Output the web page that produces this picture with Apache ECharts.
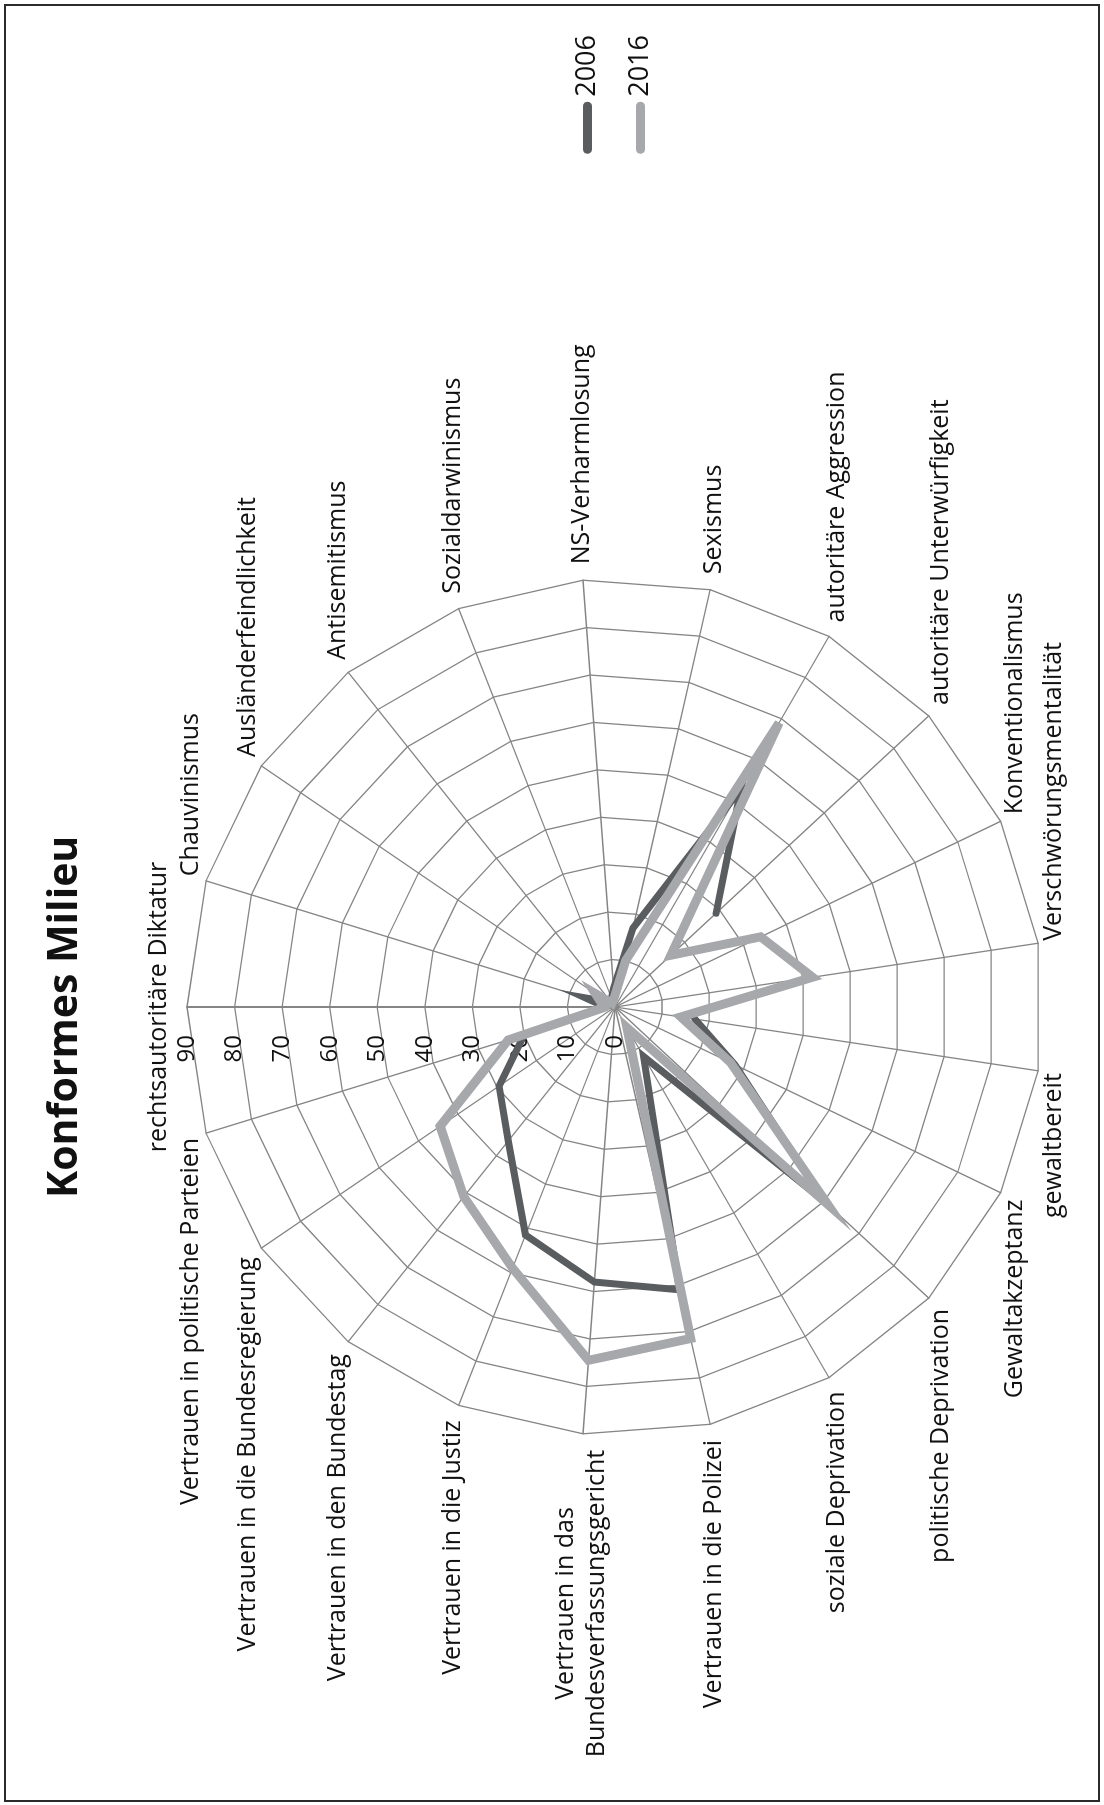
<!DOCTYPE html>
<html>
<head>
<meta charset="utf-8">
<script src="https://cdn.jsdelivr.net/npm/echarts@6/dist/echarts.min.js"></script>
<style>
  html, body { margin: 0; padding: 0; background: #fff; }
  #page { position: relative; width: 1104px; height: 1805px; overflow: hidden; }
  #frame { position: absolute; left: 4px; top: 4px; width: 1096px; height: 1798px; border: 2px solid #2b2b2b; box-sizing: border-box; pointer-events: none; }
  /* chart is laid out landscape and turned a quarter to the left, like the printed page */
  #chart { position: absolute; left: 0; top: 0; width: 1805px; height: 1104px; transform-origin: 0 0; transform: translateY(1805px) rotate(-90deg); }
</style>
</head>
<body>
<div id="page">
  <div id="chart"></div>
  <div id="frame"></div>
</div>
<script>
  // axes clockwise, starting at the top
  var axisNames = [
    'rechtsautoritäre Diktatur', 'Chauvinismus', 'Ausländerfeindlichkeit', 'Antisemitismus',
    'Sozialdarwinismus', 'NS-Verharmlosung', 'Sexismus', 'autoritäre Aggression',
    'autoritäre Unterwürfigkeit', 'Konventionalismus', 'Verschwörungsmentalität', 'gewaltbereit',
    'Gewaltakzeptanz', 'politische Deprivation', 'soziale Deprivation', 'Vertrauen in die Polizei',
    'Vertrauen in das\nBundesverfassungsgericht', 'Vertrauen in die Justiz', 'Vertrauen in den Bundestag',
    'Vertrauen in die Bundesregierung', 'Vertrauen in politische Parteien'
  ];
  var values2006 = [2, 6.5, 2, 2, 2, 4, 17, 53, 29, null, null, 17, 28, 60, 12, 61, 58, 51.5, 36, 29.5, 20];
  var values2016 = [2, 3, 5, 1, 1, 2, 10, 69, 16, 34, 42, 14, 27, 61, 5, 71.5, 74.5, 59, 51, 44.5, 23.5];
  var seriesNames = ['2006', '2016'];
  var scaleMax = 90;
  var splitCount = 9;

  var font = '"Open Sans", "DejaVu Sans", sans-serif';
  var center = [798, 615];
  var radius = 428;

  var myChart = echarts.init(document.getElementById('chart'));

  // radar places indicators counter-clockwise, so keep the first and reverse the rest
  var order = [0];
  for (var k = axisNames.length - 1; k > 0; k--) order.push(k);
  var indicators = order.map(function (idx) {
    var ind = { name: axisNames[idx], min: 0, max: scaleMax };
    if (idx === 0) {
      ind.axisLabel = { show: true };
      ind.axisLine = { lineStyle: { width: 2 } };
    }
    return ind;
  });

  // polar points [radius, axis index], closed back to the first axis
  function toPolar(vals) {
    var pts = vals.map(function (v, i) { return [v, i]; });
    pts.push([vals[0], vals.length]);
    return pts;
  }

  var capsule = 'path://M4.5,0H47.5A4.5,4.5,0,0,1,47.5,9H4.5A4.5,4.5,0,0,1,4.5,0Z';

  var option = {
    animation: false,
    backgroundColor: '#fff',
    textStyle: { fontFamily: font },
    title: {
      text: 'Konformes Milieu',
      left: 602,
      top: 40,
      textStyle: { fontFamily: font, fontWeight: 'bold', fontSize: 41, color: '#111' }
    },
    legend: {
      data: seriesNames,
      orient: 'vertical',
      right: 30,
      top: 569,
      icon: capsule,
      itemWidth: 52,
      itemHeight: 9,
      itemGap: 26,
      textStyle: { fontFamily: font, fontSize: 27, color: '#111' }
    },
    radar: {
      center: center,
      radius: radius,
      startAngle: 90,
      splitNumber: splitCount,
      shape: 'polygon',
      indicator: indicators,
      axisNameGap: 16,
      axisName: {
        color: '#111',
        fontFamily: font,
        fontSize: 25,
        formatter: function (name) {
          if (name.indexOf('\n') < 0) return name;
          return name.split('\n').map(function (s) { return '{c|' + s + '}'; }).join('\n');
        },
        rich: {
          c: { align: 'center', fontFamily: font, fontSize: 25, color: '#111', lineHeight: 31 }
        }
      },
      axisLine: { lineStyle: { color: '#858585', width: 1.3 } },
      splitLine: { lineStyle: { color: '#858585', width: 1.3 } },
      splitArea: { show: false },
      axisTick: { show: false },
      axisLabel: {
        show: false,
        margin: 28,
        fontFamily: font,
        fontSize: 24,
        color: '#111'
      }
    },
    polar: { center: center, radius: radius },
    angleAxis: {
      type: 'value',
      min: 0,
      max: axisNames.length,
      startAngle: 90,
      clockwise: true,
      axisLine: { show: false },
      axisTick: { show: false },
      axisLabel: { show: false },
      splitLine: { show: false }
    },
    radiusAxis: {
      type: 'value',
      min: 0,
      max: scaleMax,
      axisLine: { show: false },
      axisTick: { show: false },
      axisLabel: { show: false },
      splitLine: { show: false }
    },
    series: [
      {
        name: seriesNames[0],
        type: 'line',
        coordinateSystem: 'polar',
        data: toPolar(values2006),
        symbol: 'none',
        connectNulls: false,
        itemStyle: { color: '#5a5d60' },
        lineStyle: { color: '#5a5d60', width: 7, join: 'miter', cap: 'round' },
        z: 3
      },
      {
        name: seriesNames[1],
        type: 'line',
        coordinateSystem: 'polar',
        data: toPolar(values2016),
        symbol: 'none',
        itemStyle: { color: '#a7a8ab' },
        lineStyle: { color: '#a7a8ab', width: 9, join: 'miter', cap: 'round' },
        z: 4
      }
    ]
  };

  myChart.setOption(option);
</script>
</body>
</html>
